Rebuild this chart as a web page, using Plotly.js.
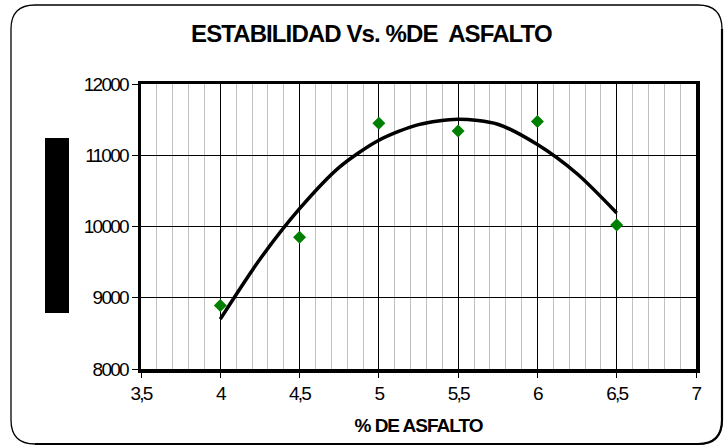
<!DOCTYPE html>
<html>
<head>
<meta charset="utf-8">
<script src="https://cdn.plot.ly/plotly-3.0.1.min.js"></script>
<style>
  html, body { margin: 0; padding: 0; background: #ffffff; }
  #chart { width: 726px; height: 448px; }
  /* tight, heavy lettering of the labels */
  #chart .xtick text, #chart .ytick text { letter-spacing: -1.8px; }
  #chart .gtitle { letter-spacing: -0.9px; }
  #chart .xtitle { letter-spacing: -1px; }
</style>
</head>
<body>
<div id="chart"></div>
<script>
// Ensayo Marshall: estabilidad medida por contenido de asfalto
const asfalto = [4, 4.5, 5, 5.5, 6, 6.5];
const estabilidad = [8890, 9850, 11450, 11340, 11475, 10020];

// Línea de tendencia (polinómica) trazada sobre el rango de ensayo
const tendenciaX = [4, 4.25, 4.5, 4.75, 5, 5.25, 5.5, 5.75, 6, 6.25, 6.5];
const tendenciaY = [8700, 9540, 10250, 10830, 11210, 11430, 11505, 11435, 11150, 10740, 10190];

const W = 726, H = 448;
const M = { l: 141, r: 30, t: 84, b: 79 };
const pw = W - M.l - M.r, ph = H - M.t - M.b;
const px = v => (v - M.l) / pw;
const py = v => (H - M.b - v) / ph;

// rounded outer frame, in paper coordinates
function roundedRect(x0, y0, x1, y1, r) {
  const rx = r / pw, ry = r / ph;
  const a = px(x0), b = px(x1), top = py(y0), bot = py(y1);
  return `M ${a + rx},${top} L ${b - rx},${top} Q ${b},${top} ${b},${top - ry} ` +
         `L ${b},${bot + ry} Q ${b},${bot} ${b - rx},${bot} ` +
         `L ${a + rx},${bot} Q ${a},${bot} ${a},${bot + ry} ` +
         `L ${a},${top - ry} Q ${a},${top} ${a + rx},${top} Z`;
}
function shadowEdge(x0, y0, x1, y1, r) {
  const rx = r / pw, ry = r / ph;
  const a = px(x0), b = px(x1), top = py(y0), bot = py(y1);
  return `M ${b},${top - ry} L ${b},${bot + ry} Q ${b},${bot} ${b - rx},${bot} L ${a + rx},${bot}`;
}

const traces = [
  {
    x: tendenciaX, y: tendenciaY,
    type: 'scatter', mode: 'lines',
    line: { color: '#000000', width: 3.5, shape: 'spline', smoothing: 0.8 },
    hoverinfo: 'skip', showlegend: false
  },
  {
    x: asfalto, y: estabilidad,
    type: 'scatter', mode: 'markers',
    marker: { symbol: 'diamond', color: '#008000', size: 10 },
    hoverinfo: 'x+y', showlegend: false
  }
];

const axisFont = { family: 'Liberation Sans, Arial, sans-serif', size: 19, color: '#000000' };

const layout = {
  width: W, height: H,
  margin: M,
  paper_bgcolor: '#ffffff',
  plot_bgcolor: '#ffffff',
  separators: ',.',
  showlegend: false,
  title: {
    text: '<b>ESTABILIDAD Vs. %DE  ASFALTO</b>',
    font: { family: 'Liberation Sans, Arial, sans-serif', size: 24, color: '#000000' },
    x: 0.5115, xanchor: 'center', y: 0.926, yanchor: 'middle'
  },
  xaxis: {
    range: [3.5, 7],
    dtick: 0.5, tick0: 3.5,
    showgrid: true, gridcolor: '#000000', gridwidth: 1,
    minor: { dtick: 0.1, showgrid: true, gridcolor: '#c0c0c0', gridwidth: 1, ticks: '' },
    showline: true, linecolor: '#000000', linewidth: 3.5, mirror: true,
    ticks: 'outside', ticklen: 5, tickcolor: '#000000', tickwidth: 1,
    tickfont: axisFont,
    zeroline: false,
    title: { text: '<b>% DE ASFALTO</b>', font: { family: 'Liberation Sans, Arial, sans-serif', size: 19, color: '#000000' }, standoff: 16 }
  },
  yaxis: {
    range: [8000, 12000],
    dtick: 1000, tickformat: 'd',
    showgrid: true, gridcolor: '#000000', gridwidth: 1,
    showline: true, linecolor: '#000000', linewidth: 3.5, mirror: true,
    ticks: 'outside', ticklen: 6, tickcolor: '#000000', tickwidth: 1,
    tickfont: axisFont,
    zeroline: false
  },
  shapes: [
    // bloque del rótulo vertical
    { type: 'rect', xref: 'paper', yref: 'paper',
      x0: px(45), x1: px(69), y0: py(313), y1: py(138),
      fillcolor: '#000000', line: { width: 0 }, layer: 'above' },
    // marco del gráfico
    { type: 'path', xref: 'paper', yref: 'paper',
      path: roundedRect(11, 5, 722, 444, 24),
      line: { color: '#000000', width: 1.3 }, layer: 'below' },
    { type: 'path', xref: 'paper', yref: 'paper',
      path: shadowEdge(11, 5, 722, 444, 24),
      line: { color: '#000000', width: 2.2 }, layer: 'below' }
  ]
};

Plotly.newPlot('chart', traces, layout, { staticPlot: true, displayModeBar: false });
</script>
</body>
</html>
